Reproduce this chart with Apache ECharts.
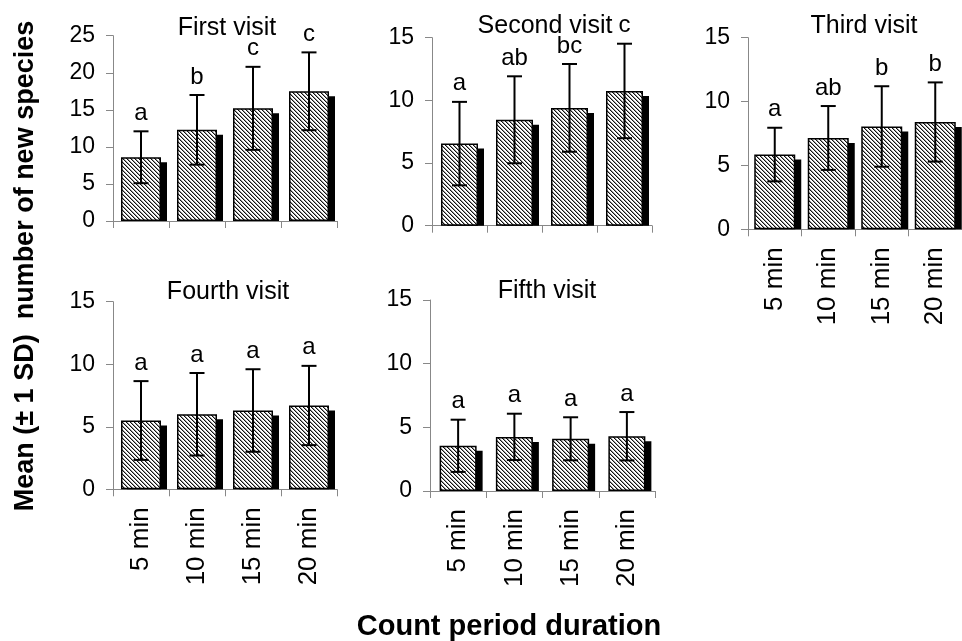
<!DOCTYPE html>
<html><head><meta charset="utf-8">
<script src="https://cdn.jsdelivr.net/npm/echarts@6/dist/echarts.min.js"></script>
<style>html,body{margin:0;padding:0;background:#fff}#chart{width:962px;height:641px}</style>
</head><body><div id="chart"></div>
<script>
// ---- data ----
const categories = ['5 min', '10 min', '15 min', '20 min'];
const panelTitles = ['First visit', 'Second visit', 'Third visit', 'Fourth visit', 'Fifth visit'];
const visit1Mean = [8.6, 12.3, 15.2, 17.5];
const visit1Sd = [3.5, 4.7, 5.6, 5.25];
const visit1Letters = ['a', 'b', 'c', 'c'];
const visit2Mean = [6.55, 8.45, 9.4, 10.75];
const visit2Sd = [3.33, 3.47, 3.5, 3.77];
const visit2Letters = ['a', 'ab', 'bc', 'c'];
const visit3Mean = [5.85, 7.15, 8.05, 8.4];
const visit3Sd = [2.1, 2.5, 3.15, 3.1];
const visit3Letters = ['a', 'ab', 'b', 'b'];
const visit4Mean = [5.5, 6.0, 6.3, 6.7];
const visit4Sd = [3.15, 3.3, 3.3, 3.17];
const visit4Letters = ['a', 'a', 'a', 'a'];
const visit5Mean = [3.55, 4.25, 4.1, 4.3];
const visit5Sd = [2.05, 1.82, 1.69, 1.9];
const visit5Letters = ['a', 'a', 'a', 'a'];
const yMaxes = [25, 15, 15, 15, 15];
const yInterval = 5;
const yAxisTitle = 'Mean (\u00B1 1 SD)  number of new species';
const xAxisTitle = 'Count period duration';

const means = [visit1Mean, visit2Mean, visit3Mean, visit4Mean, visit5Mean];
const sds = [visit1Sd, visit2Sd, visit3Sd, visit4Sd, visit5Sd];
const letters = [visit1Letters, visit2Letters, visit3Letters, visit4Letters, visit5Letters];

// ---- layout / style ----
const FONT = '"Liberation Sans", Arial, Helvetica, sans-serif';
const panels = [
  {left: 113, top: 35.7, width: 224, height: 185.3, barW: 40, labels: false, tx: 222, ty: 23.3},
  {left: 432, top: 37.7, width: 220, height: 188, barW: 37, labels: false, tx: 540, ty: 21.5},
  {left: 748, top: 37.7, width: 224, height: 191.6, barW: 41, labels: true, tx: 859, ty: 21.5},
  {left: 113, top: 301.7, width: 224, height: 187.6, barW: 40, labels: true, tx: 223, ty: 286.7},
  {left: 430, top: 300, width: 225, height: 191, barW: 37, labels: true, tx: 542, ty: 285.7}
];
const SHX = 6, SHY = 5, CAP = 7.5;

const tile = document.createElement('canvas');
tile.width = 4; tile.height = 4;
const tc = tile.getContext('2d');
tc.fillStyle = '#fff'; tc.fillRect(0, 0, 4, 4);
for (let y = 0; y < 4; y++) {
  tc.fillStyle = '#111'; tc.fillRect(y % 4, y, 1, 1);
  tc.fillStyle = '#9a9a9a'; tc.fillRect((y + 1) % 4, y, 1, 1);
}
const hatch = {image: tile, repeat: 'repeat'};

const grid = [], xAxis = [], yAxis = [], series = [], title = [];
panels.forEach((p, i) => {
  grid.push({left: p.left, top: p.top, width: p.width, height: p.height, containLabel: false});
  xAxis.push({
    type: 'category', gridIndex: i, data: categories, boundaryGap: true,
    axisLine: {lineStyle: {color: '#888', width: 1}},
    axisTick: {show: true, length: 7, lineStyle: {color: '#888'}},
    axisLabel: {show: p.labels, rotate: 90, margin: 18, fontSize: 26, color: '#000', fontFamily: FONT, interval: 0}
  });
  yAxis.push({
    type: 'value', gridIndex: i, min: 0, max: yMaxes[i], interval: yInterval,
    splitLine: {show: false},
    axisLine: {show: true, lineStyle: {color: '#888', width: 1}},
    axisTick: {show: true, length: 7, lineStyle: {color: '#888'}},
    axisLabel: {margin: 18, fontSize: 23, color: '#000', fontFamily: FONT}
  });
  const bw = p.barW;
  series.push({
    type: 'custom', xAxisIndex: i, yAxisIndex: i, z: 1, silent: true,
    data: means[i].map((m, j) => [j, m]),
    renderItem: (params, api) => {
      const top = api.coord([api.value(0), api.value(1)]);
      const base = api.coord([api.value(0), 0]);
      return {type: 'rect', shape: {x: top[0] - bw / 2 + SHX, y: top[1] + SHY, width: bw, height: base[1] - top[1] - SHY},
        style: {fill: '#000'}};
    }
  });
  series.push({
    type: 'bar', xAxisIndex: i, yAxisIndex: i, z: 2, data: means[i], barWidth: bw,
    itemStyle: {color: hatch, borderColor: '#000', borderWidth: 1.5}
  });
  series.push({
    type: 'custom', xAxisIndex: i, yAxisIndex: i, z: 3, silent: true,
    data: means[i].map((m, j) => [j, m, sds[i][j]]),
    renderItem: (params, api) => {
      const x = api.value(0), m = api.value(1), s = api.value(2);
      const hi = api.coord([x, m + s]);
      const lo = api.coord([x, m - s]);
      const ls = {stroke: '#000', lineWidth: 2};
      return {type: 'group', children: [
        {type: 'line', shape: {x1: hi[0], y1: hi[1], x2: lo[0], y2: lo[1]}, style: ls},
        {type: 'line', shape: {x1: hi[0] - CAP, y1: hi[1], x2: hi[0] + CAP, y2: hi[1]}, style: ls},
        {type: 'line', shape: {x1: lo[0] - CAP, y1: lo[1], x2: lo[0] + CAP, y2: lo[1]}, style: ls},
        {type: 'text', style: {text: letters[i][params.dataIndex], x: hi[0], y: hi[1] - 6,
          align: 'center', verticalAlign: 'bottom', font: '24px ' + FONT, fill: '#000'}}
      ]};
    }
  });
  title.push({text: panelTitles[i], left: p.tx, top: p.ty, textAlign: 'center', textVerticalAlign: 'middle',
    textStyle: {fontSize: 25, fontWeight: 'normal', color: '#000', fontFamily: FONT}});
});
title.push({text: xAxisTitle, left: 504, top: 622, textAlign: 'center', textVerticalAlign: 'middle',
  textStyle: {fontSize: 29, fontWeight: 'bold', color: '#000', fontFamily: FONT}});

const chart = echarts.init(document.getElementById('chart'), null, {renderer: 'canvas'});
chart.setOption({
  animation: false,
  backgroundColor: '#fff',
  title, grid, xAxis, yAxis, series,
  graphic: [{
    type: 'text', x: 26, y: 266, rotation: Math.PI / 2,
    style: {text: yAxisTitle, align: 'center', verticalAlign: 'middle', font: 'bold 27px ' + FONT, fill: '#000'}
  }]
});
</script></body></html>
